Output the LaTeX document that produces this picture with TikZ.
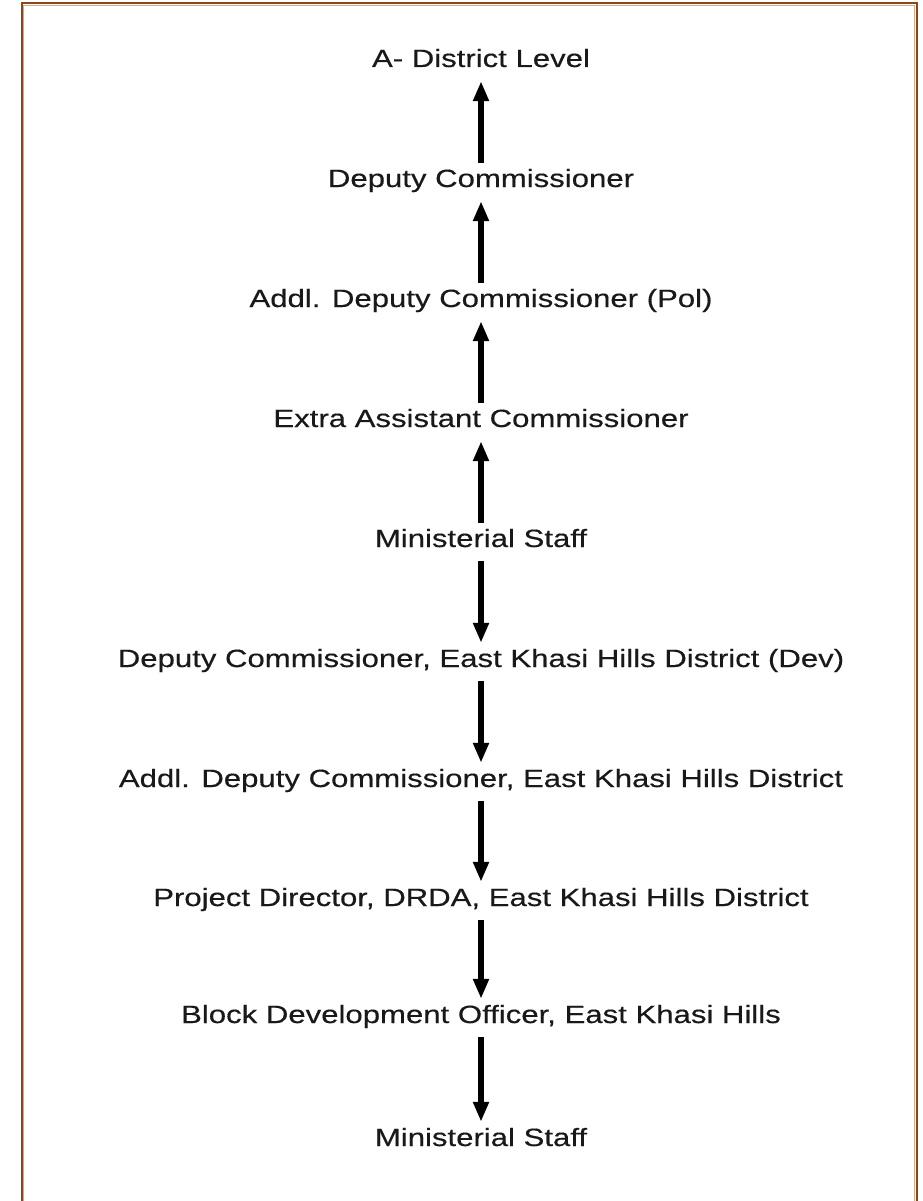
\documentclass[tikz,border=0pt]{standalone}
\usepackage{fontspec}
\setmainfont{Liberation Sans}[FakeStretch=1.245, FakeBold=0.35]
\usetikzlibrary{arrows.meta}
\definecolor{framedark}{RGB}{140,70,30}
\definecolor{framelight}{RGB}{215,170,135}
\definecolor{txt}{RGB}{25,25,25}
\tikzset{
  lvl/.style={inner sep=0pt, text height=18pt, text depth=0pt, text=txt,
    font=\fontsize{25}{30}\selectfont},
  uparr/.style={line width=5.5pt, -{Triangle[width=15pt,length=20pt]}, shorten <=6pt, shorten >=14pt},
  downarr/.style={line width=5.5pt, -{Triangle[width=15pt,length=20pt]}, shorten <=14pt, shorten >=6pt},
}
\begin{document}
\begin{tikzpicture}[x=1pt,y=1pt]
\useasboundingbox (0,0) rectangle (922,-1201);
% frame (open at bottom)
\draw[framedark, line width=2pt] (21.5,-1201) -- (21.5,-3.5) -- (916.5,-3.5) -- (916.5,-1201);
\draw[framelight, line width=0.8pt] (23.5,-1201) -- (23.5,-5.5) -- (914.5,-5.5) -- (914.5,-1201);
% levels
\node[lvl] (n1) at (481,-58) {A- District Level};
\node[lvl] (n2) at (481,-178) {Deputy Commissioner};
\node[lvl] (n3) at (481,-298) {Addl. Deputy Commissioner (Pol)};
\node[lvl] (n4) at (481,-418) {Extra Assistant Commissioner};
\node[lvl] (n5) at (481,-538) {Ministerial Staff};
\node[lvl] (n6) at (481,-658) {Deputy Commissioner, East Khasi Hills District (Dev)};
\node[lvl] (n7) at (481,-778) {Addl. Deputy Commissioner, East Khasi Hills District};
\node[lvl] (n8) at (481,-897) {Project Director, DRDA, East Khasi Hills District};
\node[lvl] (n9) at (481,-1014) {Block Development Officer, East Khasi Hills};
\node[lvl] (n10) at (481,-1137) {Ministerial Staff};
% arrows
\draw[uparr] (n2.north) -- (n1.south);
\draw[uparr] (n3.north) -- (n2.south);
\draw[uparr] (n4.north) -- (n3.south);
\draw[uparr] (n5.north) -- (n4.south);
\draw[downarr] (n5.south) -- (n6.north);
\draw[downarr] (n6.south) -- (n7.north);
\draw[downarr] (n7.south) -- (n8.north);
\draw[downarr] (n8.south) -- (n9.north);
\draw[downarr] (n9.south) -- (n10.north);
\end{tikzpicture}
\end{document}
